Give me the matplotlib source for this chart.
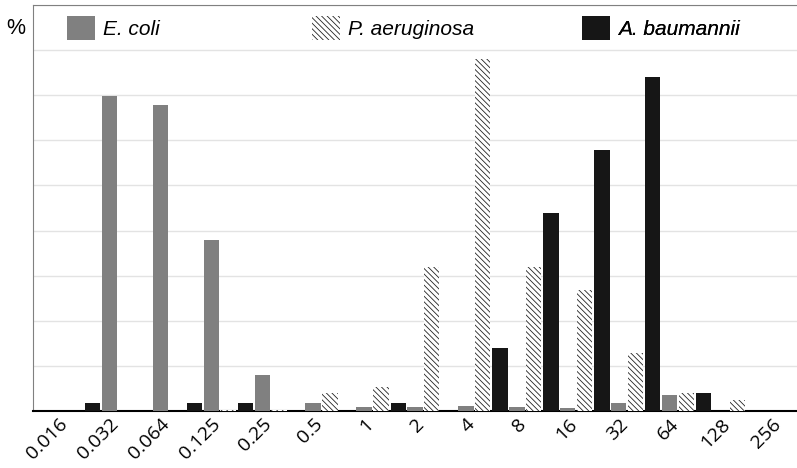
import numpy as np
import matplotlib
matplotlib.use("Agg")
import matplotlib.pyplot as plt
from matplotlib.patches import Patch

plt.rcParams['hatch.linewidth'] = 0.6

# MIC classes and % of isolates per species
mic_labels = ['0.016', '0.032', '0.064', '0.125', '0.25', '0.5', '1', '2',
              '4', '8', '16', '32', '64', '128', '256']
ecoli = [0, 34.9, 33.9, 19.0, 4.0, 0.9, 0.45, 0.45, 0.55, 0.45, 0.35, 0.9, 1.75, 0, 0]
paeru = [0, 0, 0, 0.1, 0.1, 1.95, 2.7, 16.0, 39.0, 16.0, 13.4, 6.4, 1.95, 1.2, 0]
abaum = [0, 0.9, 0, 0.9, 0.9, 0, 0, 0.9, 0, 7.0, 22.0, 28.9, 37.0, 1.95, 0]

hatch = '\\' * 6

fig = plt.figure(figsize=(7.97, 4.68), dpi=100)
ax = fig.add_axes([33 / 797, 57 / 468, 764 / 797, 406 / 468])

x = np.arange(len(mic_labels))
w = 0.30
off = 0.33
ax.bar(x - off, abaum, w, color='#161616', linewidth=0, zorder=3)
ax.bar(x, ecoli, w, color='#808080', linewidth=0, zorder=3)
ax.bar(x + off, paeru, w, color='white', edgecolor='#222222', hatch=hatch,
       linewidth=0, zorder=3)

ax.set_xlim(-0.5, len(mic_labels) - 0.5)
ax.set_ylim(0, 45)
ax.set_yticks(np.arange(0, 46, 5))
ax.yaxis.grid(True, color='#e3e3e3', linewidth=1.0, zorder=0)
ax.set_axisbelow(True)
ax.tick_params(axis='y', left=False, labelleft=False)
ax.tick_params(axis='x', length=0, pad=3)
ax.set_xticks(x)
ax.set_xticklabels(mic_labels, rotation=45, ha='right', va='top',
                   rotation_mode='anchor', fontsize=14, family='Open Sans')
for lab in ax.get_xticklabels():
    lab.set_x(lab.get_position()[0])

ax.spines['right'].set_visible(False)
ax.spines['left'].set_color('#808080')
ax.spines['top'].set_color('#808080')
ax.spines['bottom'].set_color('black')
ax.spines['bottom'].set_linewidth(1.5)

fig.text(16 / 797, 1 - 28 / 468, '%', fontsize=15.5, family='Liberation Sans',
         ha='center', va='center')

handles = [
    Patch(facecolor='#808080', linewidth=0),
    Patch(facecolor='white', edgecolor='#222222', hatch=hatch, linewidth=0),
    Patch(facecolor='#161616', linewidth=0),
]
names = ['E. coli', 'P. aeruginosa', 'A. baumannii']
xpos = [67, 312, 582]
for h, n, xp in zip(handles, names, xpos):
    leg = ax.legend([h], [n], loc='center left',
                    bbox_to_anchor=((xp - 33) / 764, (411 - 28) / 406),
                    frameon=False, borderpad=0, borderaxespad=0,
                    handlelength=1.35, handleheight=1.4, handletextpad=0.4,
                    prop={'family': 'Liberation Sans', 'style': 'italic', 'size': 15})
    ax.add_artist(leg)

fig.savefig('out.png', dpi=100)
